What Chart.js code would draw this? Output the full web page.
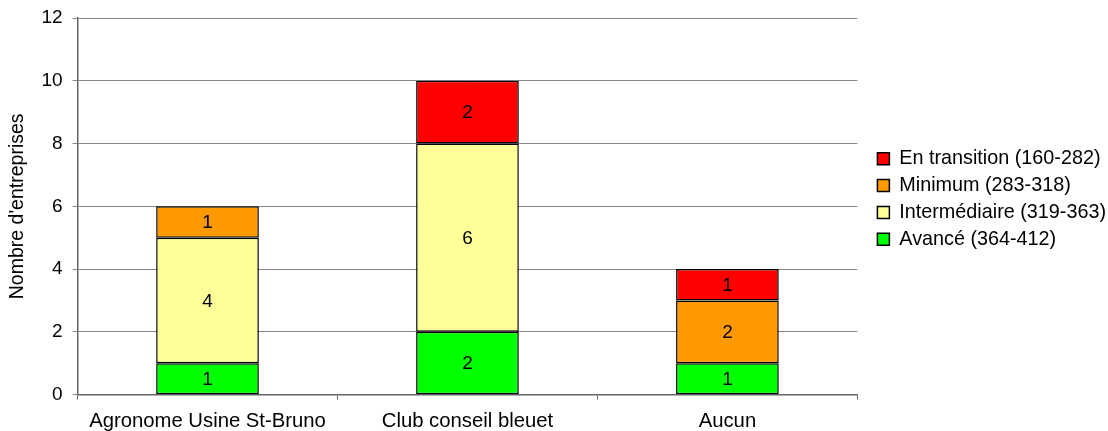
<!DOCTYPE html>
<html>
<head>
<meta charset="utf-8">
<script src="https://cdn.jsdelivr.net/npm/chart.js@4"></script>
<style>
  html, body { margin: 0; padding: 0; background: #fff; }
  #wrap { width: 1108px; height: 431px; }
</style>
</head>
<body>
<div id="wrap"><canvas id="c" width="1108" height="431"></canvas></div>
<script>
const categories = ["Agronome Usine St-Bruno", "Club conseil bleuet", "Aucun"];
const avance = [1, 2, 1];
const intermediaire = [4, 6, 0];
const minimum = [1, 0, 2];
const transition = [0, 2, 1];
const seriesNames = ["Avancé (364-412)", "Intermédiaire (319-363)", "Minimum (283-318)", "En transition (160-282)"];
const yTicks = [0, 2, 4, 6, 8, 10, 12];

const FONT = "'Liberation Sans', Arial, sans-serif";

// Writes each non-zero segment value in the middle of its bar piece
const segmentLabels = {
  id: 'segmentLabels',
  afterDatasetsDraw(chart) {
    const ctx = chart.ctx;
    ctx.save();
    ctx.font = "19px " + FONT;
    ctx.fillStyle = "#000";
    ctx.textAlign = "center";
    ctx.textBaseline = "middle";
    chart.data.datasets.forEach((ds, i) => {
      const meta = chart.getDatasetMeta(i);
      meta.data.forEach((bar, j) => {
        const v = ds.data[j];
        if (!v) return;
        const p = bar.getProps(['x', 'y', 'base'], true);
        ctx.fillText(String(v), p.x, (p.y + p.base) / 2 + 1);
      });
    });
    ctx.restore();
  }
};

// Nudges the legend block to sit beside the upper half of the plot
const legendOffset = {
  id: 'legendOffset',
  afterLayout(chart) {
    const lg = chart.legend;
    if (!lg) return;
    lg.left += 13; lg.right += 13;
    lg.top -= 32; lg.bottom -= 32;
  }
};

const mk = (label, data, color) => ({
  label, data,
  backgroundColor: color,
  borderColor: "#000",
  borderWidth: 1.5,
  borderSkipped: false,
  categoryPercentage: 1,
  barPercentage: 0.395
});

new Chart(document.getElementById('c'), {
  type: 'bar',
  data: {
    labels: categories,
    datasets: [
      mk(seriesNames[0], avance, "#00FF00"),
      mk(seriesNames[1], intermediaire, "#FFFF99"),
      mk(seriesNames[2], minimum, "#FF9900"),
      mk(seriesNames[3], transition, "#FF0000")
    ]
  },
  options: {
    responsive: false,
    animation: false,
    devicePixelRatio: 1,
    layout: { padding: { top: 18, right: 5, left: 2, bottom: -13 } },
    plugins: {
      tooltip: { enabled: false },
      legend: {
        position: 'right',
        reverse: true,
        labels: {
          font: { family: FONT, size: 19.8 },
          color: "#000",
          boxWidth: 12,
          boxHeight: 12,
          padding: 7,
          generateLabels(chart) {
            return chart.data.datasets.map((ds, i) => ({
              text: ds.label,
              fillStyle: ds.backgroundColor,
              strokeStyle: "#000",
              lineWidth: 1.5,
              datasetIndex: i,
              fontColor: "#000"
            }));
          }
        }
      }
    },
    scales: {
      x: {
        stacked: true,
        offset: true,
        grid: { display: true, drawOnChartArea: false, offset: true, tickLength: 5, color: "#666" },
        border: { color: "#666", width: 1.5 },
        ticks: { font: { family: FONT, size: 20.3 }, color: "#000", padding: 10, maxRotation: 0 }
      },
      y: {
        stacked: true,
        min: 0,
        max: 12,
        afterBuildTicks(axis) { axis.ticks = yTicks.map(v => ({ value: v })); },
        afterFit(axis) { axis.paddingTop = 0; },
        grid: { color: "#888", lineWidth: 1, tickLength: 5, drawTicks: true },
        border: { color: "#666", width: 1.5 },
        ticks: { font: { family: FONT, size: 19 }, color: "#000", padding: 10 },
        title: { display: true, text: "Nombre d'entreprises", font: { family: FONT, size: 19.5 }, color: "#000", padding: { top: 4, bottom: 2 } }
      }
    }
  },
  plugins: [segmentLabels, legendOffset]
});
</script>
</body>
</html>
